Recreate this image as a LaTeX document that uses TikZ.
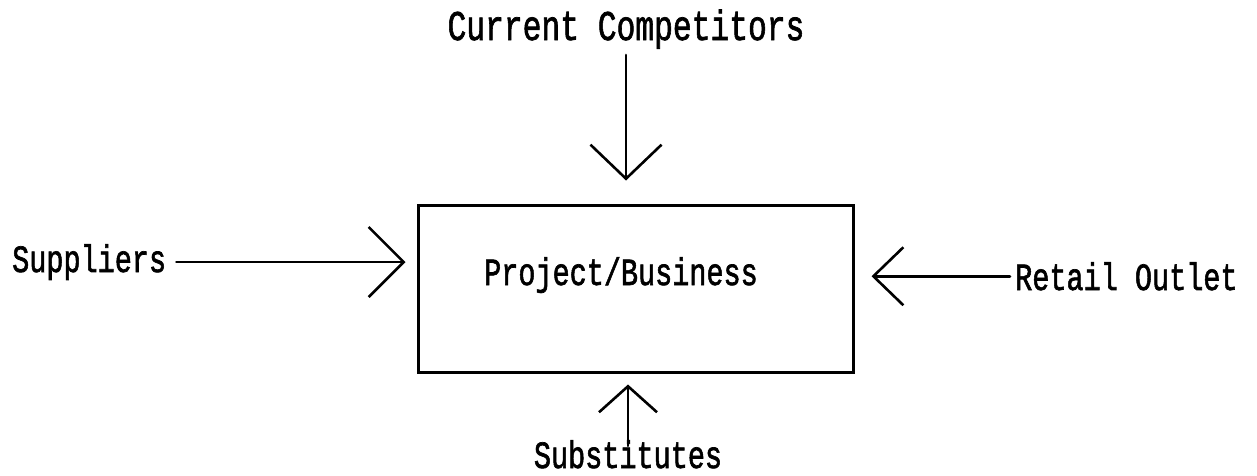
\documentclass[tikz,border=0pt]{standalone}
\usepackage{fontspec}
\usetikzlibrary{arrows.meta}
\newfontfamily\twfont[FakeBold=1.8]{Liberation Mono}
\newcommand\tallbox[1]{\scalebox{1}[1.35]{#1}}
\begin{document}
\begin{tikzpicture}[x=1pt,y=-1pt,
  lbl/.style={inner sep=0pt,font=\twfont\fontsize{28.5}{30}\selectfont},
  biglbl/.style={inner sep=0pt,font=\twfont\fontsize{31.3}{33}\selectfont},
  conn/.style={line width=2.6pt,line cap=round},
  frame/.style={draw,line width=3pt,minimum width=435pt,minimum height=167pt,inner sep=0pt}]
\useasboundingbox (0,0) rectangle (1257,475);
\node[frame] (box) at (635.5,288.5) {};
\node[lbl,anchor=base] (pb) at (621,285) {\tallbox{Project/Business}};
\node[biglbl,anchor=base] (cc) at (626,40) {\tallbox{Current Competitors}};
\node[lbl,anchor=base west] (sup) at (12,272) {\tallbox{Suppliers}};
\node[lbl,anchor=base west] (rt) at (1015,290) {\tallbox{Retail Outlet}};
\node[lbl,anchor=base] (sub) at (628,468) {\tallbox{Substitutes}};
\draw[conn,-{Straight Barb[length=35pt,width=70pt]},shorten <=10pt,shorten >=11pt]
  (sup.east) -- (sup.east -| box.west);
\draw[conn,-{Straight Barb[length=30pt,width=58pt]},shorten <=5pt,shorten >=17pt]
  (rt.west) -- (rt.west -| box.east);
\draw[conn,-{Straight Barb[length=34pt,width=71pt]},shorten <=6pt,shorten >=23pt]
  (cc.south) -- (cc.south |- box.north);
\draw[conn,-{Straight Barb[length=26pt,width=58pt]},shorten <=-6pt,shorten >=11pt]
  (sub.north) -- (sub.north |- box.south);
\end{tikzpicture}
\end{document}
